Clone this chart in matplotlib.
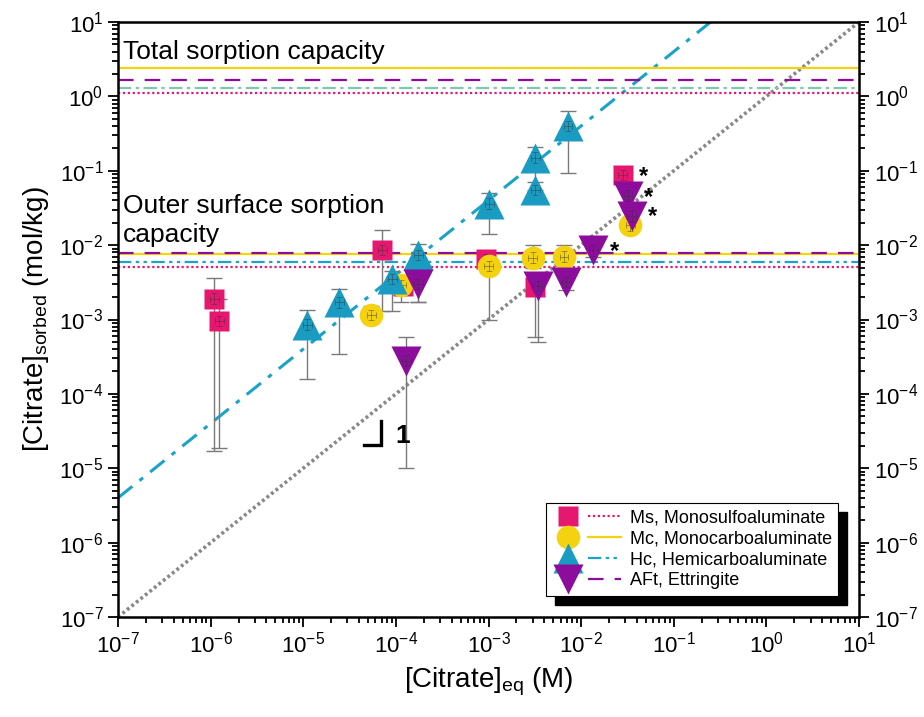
import numpy as np
import matplotlib
matplotlib.use("Agg")
import matplotlib.pyplot as plt
from matplotlib.lines import Line2D
from matplotlib.patches import Rectangle
from matplotlib.legend_handler import HandlerTuple

plt.rcParams['font.family'] = ['Liberation Sans', 'DejaVu Sans']
plt.rcParams['mathtext.fontset'] = 'custom'
plt.rcParams['mathtext.rm'] = 'Liberation Sans'
plt.rcParams['mathtext.it'] = 'Liberation Sans:italic'
plt.rcParams['mathtext.bf'] = 'Liberation Sans:bold'

# phases: Ms, Mc, Hc, AFt
labels = ["Ms, Monosulfoaluminate", "Mc, Monocarboaluminate",
          "Hc, Hemicarboaluminate", "AFt, Ettringite"]
colors = ["#e6176e", "#f5d20f", "#1a9bc2", "#8c0c9c"]
markers = ["s", "o", "^", "v"]

# sorption data (x = equilibrium conc in M, y = sorbed mol/kg, lo/hi = error bar ends)
ms_x = [1.1e-6, 1.23e-6, 7.1e-5, 1.2e-4, 9.4e-4, 3.2e-3, 0.028]
ms_y = [1.9e-3, 9.5e-4, 8.6e-3, 2.8e-3, 6.5e-3, 2.75e-3, 0.088]
ms_lo = [1.7e-5, 1.9e-5, 1.3e-3, 2.2e-3, 5.5e-3, 5.9e-4, 0.075]
ms_hi = [3.6e-3, 1.9e-3, 1.6e-2, 3.5e-3, 8.0e-3, 3.5e-3, 0.10]

mc_x = [5.4e-5, 1.15e-4, 1.0e-3, 3.0e-3, 6.5e-3, 0.034]
mc_y = [1.15e-3, 2.9e-3, 5.2e-3, 6.8e-3, 7.0e-3, 0.0185]
mc_lo = [9e-4, 1.7e-3, 1.0e-3, 5e-3, 5.5e-3, 0.015]
mc_hi = [1.5e-3, 3.5e-3, 6.8e-3, 1.0e-2, 1.0e-2, 0.022]

hc_x = [1.1e-5, 2.45e-5, 9.1e-5, 1.74e-4, 1.02e-3, 3.2e-3, 3.2e-3, 7.2e-3]
hc_y = [8.5e-4, 1.7e-3, 3.5e-3, 7.4e-3, 0.036, 0.055, 0.15, 0.40]
hc_lo = [1.6e-4, 3.4e-4, 1.3e-3, 1.7e-3, 0.014, 0.04, 0.055, 0.093]
hc_hi = [1.36e-3, 2.6e-3, 4.5e-3, 1.05e-2, 0.05, 0.07, 0.21, 0.63]

aft_x = [1.29e-4, 1.74e-4, 3.4e-3, 6.9e-3, 1.35e-2, 0.032, 0.035]
aft_y = [2.8e-4, 3.0e-3, 2.8e-3, 3.2e-3, 8.5e-3, 0.046, 0.025]
aft_lo = [1.0e-5, 1.7e-3, 5e-4, 2.5e-3, 7e-3, 0.038, 0.02]
aft_hi = [5.8e-4, 4e-3, 3.5e-3, 4e-3, 1.0e-2, 0.055, 0.03]

# capacities (mol/kg): total and outer surface
total_cap = [1.1, 2.4, 1.3, 1.65]
outer_cap = [0.0051, 0.0077, 0.0060, 0.0079]
cap_styles = [(0, (1, 1.2)), "-", (0, (6, 2, 1.5, 2, 1.5, 2)), (0, (7, 5))]
total_styles = [(0, (1, 1.2)), "-", (0, (6, 2, 1.5, 2)), (0, (7, 5))]
total_colors = ["#e6176e", "#f5d20f", "#7cc9ad", "#8c0c9c"]

# asterisk points (starred experiments)
star_x = [0.028, 0.032, 0.035, 1.35e-2]
star_y = [0.088, 0.046, 0.025, 8.5e-3]

hc_fit_factor = 40  # slope-1 line through the Hc data

fig = plt.figure(figsize=(9.24, 7.17), dpi=100)
ax = fig.add_axes([118 / 924, 100 / 717, 741 / 924, 595 / 717])
ax.set_xscale("log")
ax.set_yscale("log")
ax.set_xlim(1e-7, 10)
ax.set_ylim(1e-7, 10)

# reference lines
xx = np.array([1e-7, 10])
ax.plot(xx, xx, color="#888888", lw=2.6, ls=(0, (0.8, 0.8)), zorder=1)
ax.plot(xx, xx * hc_fit_factor, color="#1aa3c8", lw=2.2, ls=(0, (6, 3, 1.5, 3)), zorder=1)

for i in range(4):
    ax.axhline(total_cap[i], color=total_colors[i], ls=total_styles[i], lw=1.6, zorder=1)
    c = colors[i] if i != 2 else "#1aa3c8"
    ax.axhline(outer_cap[i], color=c, ls=cap_styles[i], lw=1.6, zorder=1)

data = [(ms_x, ms_y, ms_lo, ms_hi), (mc_x, mc_y, mc_lo, mc_hi),
        (hc_x, hc_y, hc_lo, hc_hi), (aft_x, aft_y, aft_lo, aft_hi)]
msizes = [15, 17, 21, 21]

for i, (x, y, lo, hi) in enumerate(data):
    x = np.array(x); y = np.array(y)
    yerr = [y - np.array(lo), np.array(hi) - y]
    ax.errorbar(x, y, yerr=yerr, fmt="none", ecolor="#7a7a7a", elinewidth=1.0,
                capsize=6, capthick=1.0, zorder=2)
    ax.plot(x, y, ls="none", marker=markers[i], ms=msizes[i], color=colors[i],
            mec="none", zorder=3 + i)
    # small inner error crosses
    ax.errorbar(x, y, yerr=[y * 0.15, y * 0.18], xerr=[x * 0.1, x * 0.12], fmt="none",
                ecolor="#333333", elinewidth=0.5, capsize=2.5, capthick=0.5,
                alpha=0.6, zorder=3 + i)

for sx, sy in zip(star_x, star_y):
    ax.annotate("*", (sx, sy), xytext=(15, -1), textcoords="offset points",
                fontsize=17, fontweight="bold", ha="center", va="center", zorder=10)

# slope marker
ax.plot([10 ** -4.34, 10 ** -4.16, 10 ** -4.16], [10 ** -4.69, 10 ** -4.69, 10 ** -4.36],
        color="black", lw=2.4, solid_joinstyle="miter", zorder=5)
ax.text(10 ** -3.93, 10 ** -4.56, "1", fontsize=19, fontweight="bold", ha="center",
        va="center")

ax.text(0.007, 0.95, "Total sorption capacity", transform=ax.transAxes,
        fontsize=19, ha="left", va="center")
ax.text(0.007, 0.667, "Outer surface sorption\ncapacity", transform=ax.transAxes,
        fontsize=19, ha="left", va="center", linespacing=1.25)

ax.set_xlabel("[Citrate]$_{\\mathrm{eq}}$ (M)", fontsize=20, labelpad=6)
ax.set_ylabel("[Citrate]$_{\\mathrm{sorbed}}$ (mol/kg)", fontsize=20, labelpad=6)

ax.tick_params(which="both", direction="out", top=False, right=True,
               labelright=True, labelsize=16, width=1.3)
ax.tick_params(which="major", length=7)
ax.tick_params(which="minor", length=4)
for s in ax.spines.values():
    s.set_linewidth(1.8)

# legend: marker on the left, line on the right
handles = []
for i in range(4):
    mk = Line2D([], [], ls="none", marker=markers[i], ms=msizes[i], color=colors[i], mec="none")
    c = colors[i] if i != 2 else "#1aa3c8"
    ln = Line2D([], [], color=c, ls=cap_styles[i], lw=1.6)
    handles.append((mk, ln))
leg = ax.legend(handles, labels, handler_map={tuple: HandlerTuple(ndivide=None, pad=0.2)},
                loc="lower right", bbox_to_anchor=(0.9717, 0.036), borderaxespad=0,
                fontsize=13, handlelength=3.8, labelspacing=0.22, handletextpad=0.5,
                borderpad=0.35, fancybox=False, framealpha=1, edgecolor="black")
leg.get_frame().set_linewidth(0.8)
leg.set_zorder(20)

fig.canvas.draw()
bb = leg.get_window_extent().transformed(ax.transAxes.inverted())
ax.add_patch(Rectangle((bb.x0 + 9 / 741, bb.y0 - 9 / 595), bb.width, bb.height,
                       transform=ax.transAxes, color="black", clip_on=False, zorder=19))

fig.savefig("out.png", dpi=100)
